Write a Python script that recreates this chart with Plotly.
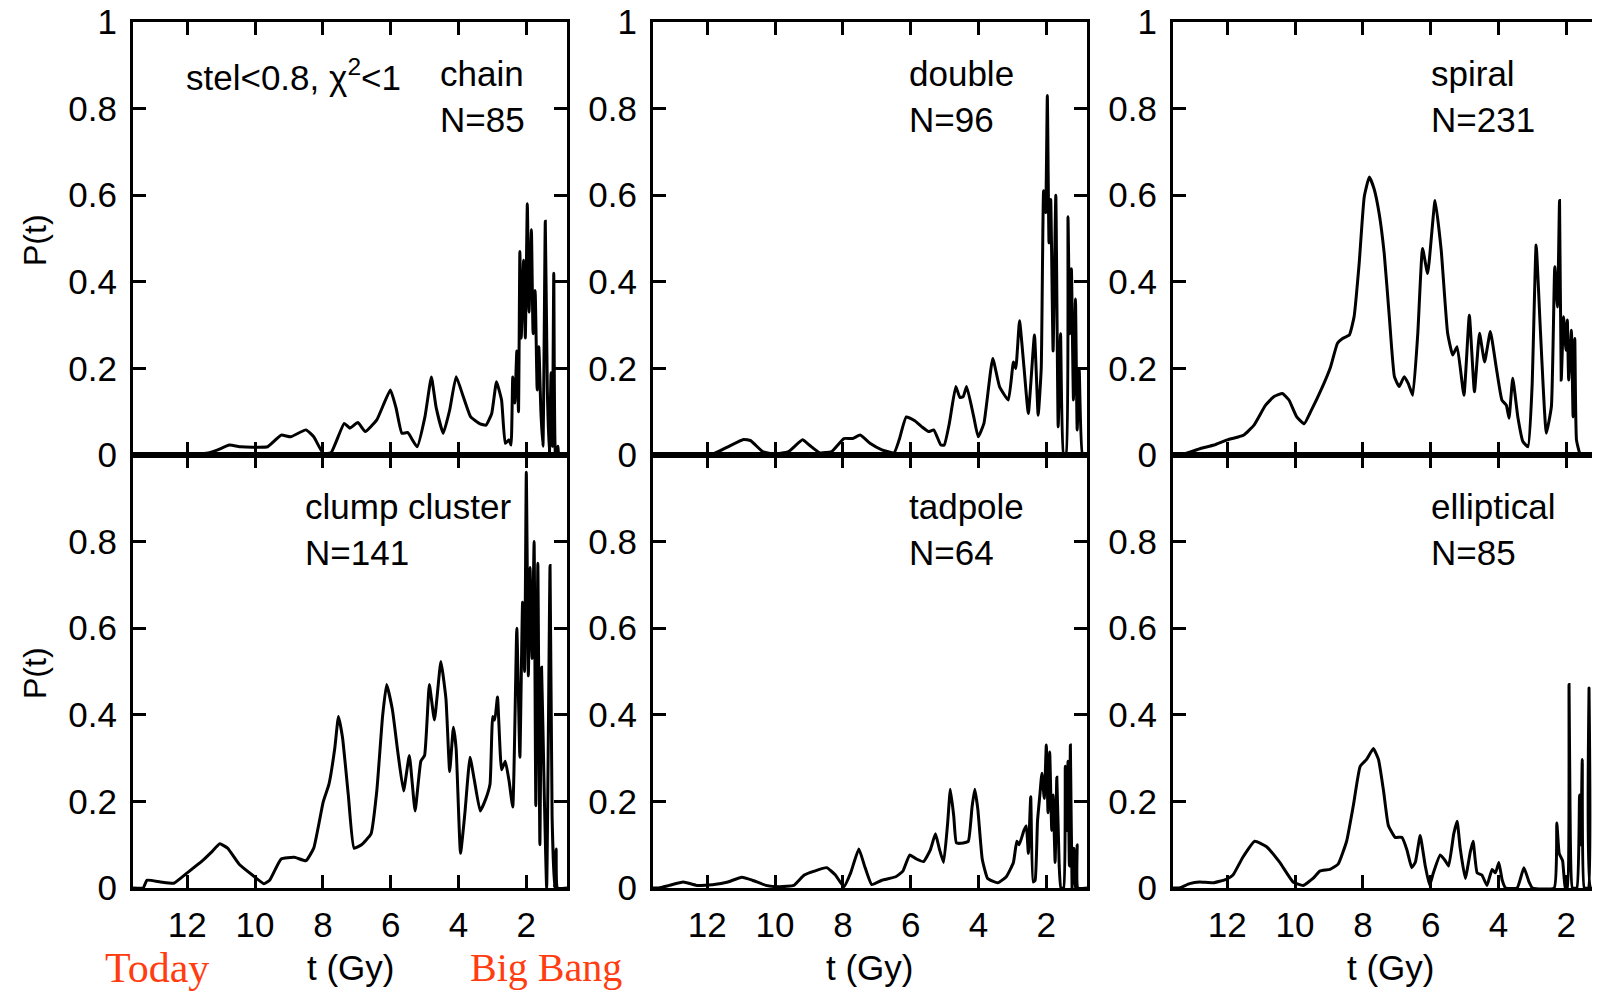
import plotly.graph_objects as go

W, H = 1600, 997
OFF = 8  # page body margin in the browser

# ---------------- data (t in Gy, P(t)) ----------------
chain_t = [13.6, 11.9, 11.44, 11.1, 10.76, 10.42, 10.08, 9.63, 9.23, 8.95, 8.5, 8.27, 7.99, 7.76,
           7.37, 7.2, 6.97, 6.75, 6.41, 6.01, 5.84, 5.67, 5.5, 5.22, 4.99, 4.8, 4.66, 4.45, 4.26,
           4.07, 3.86, 3.64, 3.36, 3.19, 3.02, 2.88, 2.73, 2.62, 2.51, 2.45, 2.40, 2.34, 2.28, 2.23,
           2.19, 2.15, 2.08, 2.03, 1.97, 1.92, 1.85, 1.80, 1.74, 1.68, 1.63, 1.57, 1.51, 1.44, 1.38,
           1.32, 1.27, 1.23, 1.19, 1.14, 1.07, 1.04, 0.8]
chain_p = [0, 0, 0.004, 0.012, 0.023, 0.019, 0.018, 0.019, 0.046, 0.042, 0.058, 0.042, 0.004, 0.005,
           0.073, 0.062, 0.075, 0.054, 0.081, 0.15, 0.108, 0.05, 0.052, 0.019, 0.088, 0.18, 0.11, 0.05, 0.104,
           0.181, 0.135, 0.088, 0.072, 0.069, 0.096, 0.169, 0.127, 0.027, 0.035, 0.023, 0.18, 0.12, 0.24, 0.1,
           0.47, 0.27, 0.45, 0.27, 0.58, 0.33, 0.52, 0.28, 0.38, 0.15, 0.25, 0.1, 0.02, 0.54, 0.15,
           0.0, 0.19, 0.02, 0.42, 0.0, 0.02, 0, 0]

double_t = [13.6, 11.9, 11.39, 10.93, 10.72, 10.37, 10.06, 9.6, 9.19, 8.99, 8.68, 8.33, 7.97, 7.71,
            7.49, 7.2, 6.85, 6.49, 6.34, 6.13, 5.88, 5.67, 5.47, 5.32, 5.11, 5.01, 4.86, 4.67, 4.55,
            4.45, 4.35, 4.14, 4.01, 3.84, 3.58, 3.38, 3.12, 2.97, 2.9, 2.79, 2.66, 2.53, 2.35, 2.24,
            2.15, 2.08, 2.02, 1.97, 1.92, 1.87, 1.8, 1.72, 1.65, 1.58, 1.49, 1.42, 1.36, 1.31, 1.26,
            1.2, 1.14, 1.09, 1.03, 0.93, 0.8]
double_p = [0, 0, 0.019, 0.036, 0.033, 0.008, 0.002, 0.008, 0.035, 0.023, 0.005, 0.008, 0.038, 0.038,
            0.046, 0.027, 0.012, 0.005, 0.035, 0.088, 0.079, 0.065, 0.054, 0.058, 0.023, 0.023, 0.073, 0.158, 0.133,
            0.135, 0.158, 0.088, 0.042, 0.073, 0.223, 0.158, 0.127, 0.215, 0.2, 0.31, 0.204, 0.096, 0.277, 0.092,
            0.2, 0.61, 0.56, 0.83, 0.49, 0.59, 0.24, 0.6, 0.065, 0.28, 0, 0, 0.55, 0.28, 0.43,
            0.127, 0.36, 0.058, 0.2, 0, 0]

spiral_t = [13.6, 13.28, 12.79, 12.39, 12.0, 11.7, 11.51, 11.21, 10.87, 10.62, 10.37, 10.18, 9.95,
            9.73, 9.54, 9.19, 8.95, 8.75, 8.6, 8.4, 8.26, 8.11, 7.96, 7.81, 7.67, 7.52, 7.37, 7.22,
            7.07, 6.93, 6.78, 6.66, 6.53, 6.38, 6.24, 6.09, 5.87, 5.69, 5.5, 5.35, 5.22, 5.02, 4.86,
            4.71, 4.56, 4.41, 4.24, 4.07, 3.9, 3.77, 3.69, 3.58, 3.43, 3.28, 3.13, 3.01, 2.89, 2.76,
            2.59, 2.44, 2.34, 2.26, 2.2, 2.15, 2.08, 2.01, 1.97, 1.93, 1.85, 1.8, 1.75, 1.7, 1.6,
            1.45, 1.0]
spiral_p = [0, 0.002, 0.015, 0.023, 0.035, 0.041, 0.046, 0.069, 0.115, 0.135, 0.142, 0.127, 0.088,
            0.072, 0.1, 0.158, 0.204, 0.258, 0.269, 0.277, 0.319, 0.442, 0.596, 0.642, 0.615, 0.558, 0.465, 0.319,
            0.181, 0.158, 0.181, 0.165, 0.138, 0.281, 0.477, 0.419, 0.588, 0.473, 0.281, 0.231, 0.25, 0.138, 0.323,
            0.146, 0.281, 0.215, 0.285, 0.204, 0.127, 0.115, 0.085, 0.177, 0.088, 0.031, 0.019, 0.158, 0.485, 0.281,
            0.05, 0.112, 0.435, 0.342, 0.588, 0.173, 0.319, 0.242, 0.312, 0.173, 0.288, 0.088, 0.269, 0.035, 0.004,
            0, 0]

clump_t = [13.6, 13.3, 13.19, 12.79, 12.4, 12.0, 11.55, 11.27, 11.04, 10.81, 10.47, 10.08, 9.74, 9.57,
           9.23, 8.84, 8.5, 8.27, 7.99, 7.82, 7.65, 7.54, 7.42, 7.25, 7.08, 6.86, 6.58, 6.41, 6.24,
           6.12, 5.95, 5.79, 5.62, 5.45, 5.28, 5.11, 5.0, 4.86, 4.71, 4.52, 4.37, 4.26, 4.15, 4.07,
           3.94, 3.81, 3.66, 3.53, 3.36, 3.19, 3.07, 2.99, 2.93, 2.85, 2.73, 2.62, 2.51, 2.4, 2.28,
           2.19, 2.11, 2.05, 2.0, 1.94, 1.89, 1.83, 1.77, 1.72, 1.66, 1.6, 1.55, 1.47, 1.4, 1.3,
           1.24, 1.17, 1.12, 1.08, 0.8]
clump_p = [0, 0, 0.018, 0.014, 0.011, 0.035, 0.063, 0.084, 0.102, 0.092, 0.055, 0.03, 0.01, 0.018,
           0.067, 0.071, 0.063, 0.092, 0.199, 0.24, 0.322, 0.396, 0.347, 0.215, 0.092, 0.1, 0.125, 0.224, 0.396,
           0.47, 0.412, 0.314, 0.224, 0.306, 0.178, 0.293, 0.306, 0.47, 0.388, 0.523, 0.437, 0.269, 0.371, 0.322,
           0.08, 0.174, 0.302, 0.248, 0.178, 0.207, 0.24, 0.396, 0.388, 0.441, 0.273, 0.293, 0.248, 0.187, 0.6,
           0.302, 0.66, 0.5, 0.96, 0.49, 0.74, 0.53, 0.8, 0.19, 0.75, 0.1, 0.51, 0.215, 0, 0.745,
           0.166, 0, 0.09, 0, 0]

tadpole_t = [13.6, 13.43, 13.12, 12.71, 12.31, 11.8, 11.39, 10.98, 10.67, 10.27, 9.86, 9.45, 9.14, 8.84,
             8.48, 8.22, 7.97, 7.77, 7.53, 7.36, 7.15, 6.85, 6.44, 6.23, 6.03, 5.83, 5.62, 5.42, 5.27,
             5.16, 5.03, 4.91, 4.83, 4.73, 4.65, 4.45, 4.3, 4.19, 4.11, 4.02, 3.89, 3.73, 3.43, 3.18,
             2.97, 2.87, 2.8, 2.66, 2.59, 2.53, 2.46, 2.39, 2.33, 2.26, 2.19, 2.13, 2.06, 2.0, 1.95,
             1.9, 1.84, 1.8, 1.74, 1.69, 1.62, 1.57, 1.49, 1.44, 1.39, 1.36, 1.32, 1.29, 1.24, 1.19,
             1.14, 1.09, 1.07, 0.8]
tadpole_p = [0, 0, 0.006, 0.014, 0.006, 0.008, 0.014, 0.025, 0.018, 0.006, 0.003, 0.006, 0.03, 0.039,
             0.047, 0.03, 0.003, 0.035, 0.09, 0.051, 0.008, 0.018, 0.026, 0.039, 0.076, 0.067, 0.061, 0.088, 0.125,
             0.092, 0.059, 0.15, 0.228, 0.166, 0.104, 0.104, 0.108, 0.187, 0.228, 0.182, 0.067, 0.022, 0.012, 0.026,
             0.059, 0.108, 0.1, 0.133, 0.143, 0.08, 0.211, 0.014, 0.018, 0.154, 0.215, 0.265, 0.207, 0.33, 0.174,
             0.314, 0.133, 0.215, 0.059, 0.256, 0.051, 0, 0, 0.281, 0.133, 0.293, 0.051, 0.33, 0, 0.092,
             0, 0.1, 0, 0]

ellip_t = [13.6, 13.41, 13.11, 12.82, 12.42, 12.03, 11.83, 11.54, 11.19, 10.85, 10.45, 10.06, 9.76, 9.47,
           9.27, 8.97, 8.73, 8.48, 8.28, 8.08, 7.89, 7.69, 7.54, 7.39, 7.25, 7.05, 6.85, 6.7, 6.56,
           6.45, 6.31, 6.16, 6.03, 5.92, 5.72, 5.57, 5.47, 5.32, 5.22, 5.13, 4.98, 4.83, 4.75, 4.63,
           4.49, 4.34, 4.19, 4.09, 3.99, 3.89, 3.79, 3.45, 3.25, 3.1, 3.0, 2.36, 2.28, 2.21, 2.11,
           2.03, 1.97, 1.92, 1.89, 1.82, 1.69, 1.61, 1.57, 1.53, 1.47, 1.35, 1.33, 1.28, 1.0]
ellip_p = [0, 0, 0.01, 0.014, 0.012, 0.02, 0.03, 0.071, 0.108, 0.096, 0.059, 0.014, 0.006, 0.022,
           0.039, 0.043, 0.055, 0.108, 0.191, 0.281, 0.297, 0.322, 0.297, 0.224, 0.145, 0.117, 0.117, 0.088, 0.047,
           0.06, 0.121, 0.051, 0.006, 0.035, 0.076, 0.063, 0.051, 0.125, 0.154, 0.092, 0.022, 0.084, 0.108, 0.035,
           0.03, 0.006, 0.043, 0.035, 0.059, 0.018, 0, 0, 0.047, 0.014, 0, 0, 0.15, 0.08, 0.063,
           0, 0, 0.47, 0.18, 0, 0, 0.215, 0.1, 0.297, 0, 0, 0.462, 0, 0]

names = ["chain", "double", "spiral", "clump cluster", "tadpole", "elliptical"]
counts = [85, 96, 231, 141, 64, 85]
series_t = [chain_t, double_t, spiral_t, clump_t, tadpole_t, ellip_t]
series_p = [chain_p, double_p, spiral_p, clump_p, tadpole_p, ellip_p]

x_ticks = [2, 4, 6, 8, 10, 12]
y_ticks_top = [0, 0.2, 0.4, 0.6, 0.8, 1]
y_ticks_bot = [0, 0.2, 0.4, 0.6, 0.8]
y_text_top = ["0", "0.2", "0.4", "0.6", "0.8", "1"]
y_text_bot = ["0", "0.2", "0.4", "0.6", "0.8"]

# ---------------- layout geometry (page pixels) ----------------
cols_px = [(133, 567), (653, 1087), (1173, 1607)]
rows_px = [(22, 455), (455, 888)]
x_ranges = [[13.6, 0.8], [13.6, 0.8], [13.6, 0.8]]


def fx(px):
    return min(max((px - OFF) / W, 0), 1)


def fy(py):
    return min(max(1 - (py - OFF) / H, 0), 1)


FONT = "Liberation Sans, Arial, Helvetica, sans-serif"
fig = go.Figure()
layout = dict(template="none", width=W, height=H, margin=dict(l=0, r=0, t=0, b=0, pad=0),
              paper_bgcolor="white", plot_bgcolor="white", showlegend=False,
              font=dict(family=FONT, size=35, color="black"))
annotations = []

for i in range(6):
    r, c = divmod(i, 3)
    k = "" if i == 0 else str(i + 1)
    x0, x1 = cols_px[c]
    top, bot = rows_px[r]
    fig.add_trace(go.Scatter(x=series_t[i], y=series_p[i], mode="lines",
                             line=dict(color="black", width=3, shape="spline", smoothing=0.4),
                             xaxis="x" + k, yaxis="y" + k, hoverinfo="skip"))
    axcommon = dict(showline=True, linecolor="black", linewidth=3, mirror="ticks",
                    ticks="inside", ticklen=13, tickwidth=2.5, tickcolor="black",
                    showgrid=False, zeroline=False, fixedrange=True, automargin=False,
                    ticklabeloverflow="allow")
    layout["xaxis" + k] = dict(axcommon, domain=[fx(x0), fx(x1)], range=x_ranges[c],
                               anchor="y" + k, tickvals=x_ticks,
                               showticklabels=(r == 1), ticklabelstandoff=4,
                               tickfont=dict(size=35))
    layout["yaxis" + k] = dict(axcommon, domain=[fy(bot), fy(top)], range=[0, 1],
                               anchor="x" + k,
                               tickvals=y_ticks_top if r == 0 else y_ticks_bot,
                               ticktext=y_text_top if r == 0 else y_text_bot,
                               ticklabelstandoff=6, tickfont=dict(size=35))
    # panel label
    lx = [438, 907, 1429][c] if r == 0 else [303, 907, 1429][c]
    yc = 96.5 if r == 0 else 529.5
    annotations.append(dict(xref="paper", yref="paper", x=fx(lx), y=fy(yc),
                            xanchor="left", yanchor="middle", align="left", showarrow=False,
                            text=f"{names[i]}<br>N={counts[i]}",
                            font=dict(size=35, family=FONT, color="black")))

annotations.append(dict(xref="paper", yref="paper", x=fx(184), y=fy(75),
                        xanchor="left", yanchor="middle", showarrow=False,
                        text="stel&lt;0.8, χ<sup>2</sup>&lt;1",
                        font=dict(size=35, family=FONT, color="black")))

for c in range(3):
    xc = (cols_px[c][0] + cols_px[c][1]) / 2
    annotations.append(dict(xref="paper", yref="paper", x=fx(xc), y=fy(967),
                            xanchor="center", yanchor="middle", showarrow=False,
                            text="t (Gy)", font=dict(size=35, family=FONT, color="black")))
for yc in [240, 673]:
    annotations.append(dict(xref="paper", yref="paper", x=fx(35), y=fy(yc),
                            xanchor="center", yanchor="middle", showarrow=False, textangle=-90,
                            text="P(t)", font=dict(size=32, family=FONT, color="black")))

RED = "#ff3d10"
SERIF = "Liberation Serif, Times New Roman, serif"
annotations.append(dict(xref="paper", yref="paper", x=fx(103), y=fy(968),
                        xanchor="left", yanchor="middle", showarrow=False,
                        text="Today", font=dict(size=42, family=SERIF, color=RED)))
annotations.append(dict(xref="paper", yref="paper", x=fx(468), y=fy(967),
                        xanchor="left", yanchor="middle", showarrow=False,
                        text="Big Bang", font=dict(size=40, family=SERIF, color=RED)))

layout["annotations"] = annotations
fig.update_layout(**layout)
fig.write_html("out.html")
